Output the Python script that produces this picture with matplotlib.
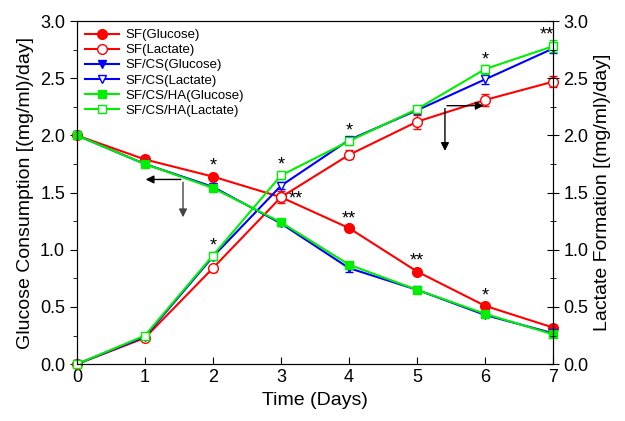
import matplotlib.pyplot as plt

plt.rcParams['font.family'] = ['Liberation Sans', 'DejaVu Sans']

days = [0, 1, 2, 3, 4, 5, 6, 7]

sf_glu = [2.0, 1.79, 1.64, 1.46, 1.19, 0.81, 0.51, 0.32]
sf_lac = [0.0, 0.23, 0.84, 1.46, 1.83, 2.12, 2.31, 2.47]
cs_glu = [2.0, 1.75, 1.55, 1.23, 0.84, 0.65, 0.43, 0.27]
cs_lac = [0.0, 0.24, 0.94, 1.56, 1.96, 2.22, 2.49, 2.76]
ha_glu = [2.0, 1.75, 1.54, 1.24, 0.87, 0.65, 0.44, 0.26]
ha_lac = [0.0, 0.25, 0.95, 1.65, 1.95, 2.23, 2.58, 2.78]

sf_glu_err = [0.01, 0.02, 0.02, 0.02, 0.03, 0.02, 0.02, 0.02]
sf_lac_err = [0.01, 0.02, 0.03, 0.05, 0.04, 0.06, 0.05, 0.05]
cs_glu_err = [0.01, 0.02, 0.02, 0.02, 0.03, 0.02, 0.02, 0.02]
cs_lac_err = [0.01, 0.02, 0.03, 0.03, 0.03, 0.03, 0.04, 0.04]
ha_glu_err = [0.01, 0.02, 0.02, 0.02, 0.02, 0.02, 0.02, 0.02]
ha_lac_err = [0.01, 0.02, 0.03, 0.03, 0.03, 0.03, 0.04, 0.05]

# significance marks: (day, value, text)
stars = [(2, 1.73, '*'), (2, 1.03, '*'), (3, 1.74, '*'), (3.22, 1.44, '**'),
         (4, 2.04, '*'), (4, 1.27, '**'), (5, 0.90, '**'), (6, 2.66, '*'),
         (6, 0.60, '*'), (6.9, 2.88, '**')]

fig = plt.figure(figsize=(6.25, 4.21), dpi=100)
ax = fig.add_axes([0.123, 0.135, 0.762, 0.815])

series = [
    (sf_glu, sf_glu_err, 'SF(Glucose)', 'red', 'o', 'red'),
    (sf_lac, sf_lac_err, 'SF(Lactate)', 'red', 'o', 'white'),
    (cs_glu, cs_glu_err, 'SF/CS(Glucose)', 'blue', 'v', 'blue'),
    (cs_lac, cs_lac_err, 'SF/CS(Lactate)', 'blue', 'v', 'white'),
    (ha_glu, ha_glu_err, 'SF/CS/HA(Glucose)', '#00ee00', 's', '#00ee00'),
    (ha_lac, ha_lac_err, 'SF/CS/HA(Lactate)', '#00ee00', 's', 'white'),
]
for vals, err, lab, c, m, fc in series:
    ax.errorbar(days, vals, yerr=err, fmt='none', ecolor=c, capsize=3,
                elinewidth=1, clip_on=False)
    ax.plot(days, vals, color=c, marker=m, markerfacecolor=fc,
            markeredgecolor=c, markersize=7 if m == 'o' else 6, lw=1.5,
            label=lab, clip_on=False)

for d, v, t in stars:
    ax.text(d, v, t, ha='center', va='center', fontsize=13)

# arrows
ax.annotate('', xy=(0.97, 1.615), xytext=(1.57, 1.615),
            arrowprops=dict(arrowstyle='-|>', color='black', lw=1, mutation_scale=12))
ax.annotate('', xy=(1.56, 1.26), xytext=(1.56, 1.615),
            arrowprops=dict(arrowstyle='-|>', color='#444444', lw=1, mutation_scale=12))
ax.annotate('', xy=(6.02, 2.26), xytext=(5.40, 2.26),
            arrowprops=dict(arrowstyle='-|>', color='black', lw=1, mutation_scale=12))
ax.annotate('', xy=(5.41, 1.84), xytext=(5.41, 2.26),
            arrowprops=dict(arrowstyle='-|>', color='black', lw=1, mutation_scale=12))

yt = [0, 0.5, 1.0, 1.5, 2.0, 2.5, 3.0]
ytl = ['0.0', '0.5', '1.0', '1.5', '2.0', '2.5', '3.0']
ymin = [0.25, 0.75, 1.25, 1.75, 2.25, 2.75]

ax.set_xlim(0, 7)
ax.set_ylim(0, 3.0)
ax.set_xticks(days)
ax.set_yticks(yt)
ax.set_yticklabels(ytl)
ax.set_yticks(ymin, minor=True)
ax.tick_params(axis='x', direction='in', labelsize=13, length=5)
ax.tick_params(axis='y', direction='out', labelsize=13, length=5)
ax.tick_params(axis='y', which='minor', direction='out', length=3)
ax.set_xlabel('Time (Days)', fontsize=14)
ax.set_ylabel('Glucose Consumption [(mg/ml)/day]', fontsize=14)

ax2 = ax.twinx()
ax2.set_ylim(0, 3.0)
ax2.set_yticks(yt)
ax2.set_yticklabels(ytl)
ax2.set_yticks(ymin, minor=True)
ax2.tick_params(axis='y', direction='inout', labelsize=13, length=8)
ax2.tick_params(axis='y', which='minor', direction='inout', length=5)
ax2.set_ylabel('Lactate Formation [(mg/ml)/day]', fontsize=14)

ax.legend(loc='upper left', frameon=False, fontsize=9.5, handlelength=2.6,
          labelspacing=0.22, borderaxespad=0.2, handletextpad=0.5)

fig.savefig('out.png', dpi=100)
